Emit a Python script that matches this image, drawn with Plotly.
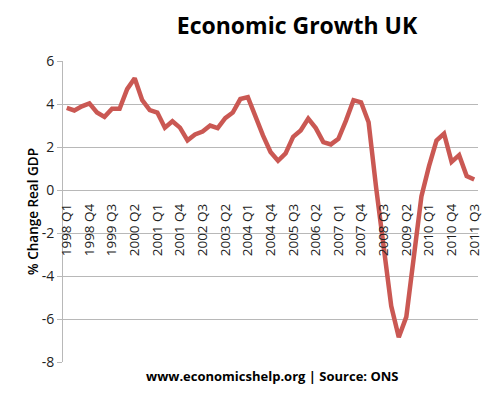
import plotly.graph_objects as go

categories = [
    "1998 Q1", "1998 Q2", "1998 Q3", "1998 Q4",
    "1999 Q1", "1999 Q2", "1999 Q3", "1999 Q4",
    "2000 Q1", "2000 Q2", "2000 Q3", "2000 Q4",
    "2001 Q1", "2001 Q2", "2001 Q3", "2001 Q4",
    "2002 Q1", "2002 Q2", "2002 Q3", "2002 Q4",
    "2003 Q1", "2003 Q2", "2003 Q3", "2003 Q4",
    "2004 Q1", "2004 Q2", "2004 Q3", "2004 Q4",
    "2005 Q1", "2005 Q2", "2005 Q3", "2005 Q4",
    "2006 Q1", "2006 Q2", "2006 Q3", "2006 Q4",
    "2007 Q1", "2007 Q2", "2007 Q3", "2007 Q4",
    "2008 Q1", "2008 Q2", "2008 Q3", "2008 Q4",
    "2009 Q1", "2009 Q2", "2009 Q3", "2009 Q4",
    "2010 Q1", "2010 Q2", "2010 Q3", "2010 Q4",
    "2011 Q1", "2011 Q2", "2011 Q3",
]

gdp_growth = [
    3.82, 3.70, 3.89, 4.03,
    3.61, 3.40, 3.78, 3.78,
    4.69, 5.20, 4.18, 3.72,
    3.60, 2.90, 3.20, 2.90,
    2.31, 2.58, 2.72, 3.00,
    2.88, 3.34, 3.60, 4.23,
    4.32, 3.38, 2.54, 1.77,
    1.36, 1.70, 2.47, 2.77,
    3.32, 2.88, 2.23, 2.12,
    2.38, 3.23, 4.18, 4.08,
    3.15, 0.10, -2.70, -5.40,
    -6.85, -5.90, -3.10, -0.30,
    1.10, 2.30, 2.62, 1.31,
    1.62, 0.65, 0.49,
]

tick_labels = [
    "1998 Q1", "1998 Q4", "1999 Q3", "2000 Q2", "2001 Q1", "2001 Q4",
    "2002 Q3", "2003 Q2", "2004 Q1", "2004 Q4", "2005 Q3", "2006 Q2",
    "2007 Q1", "2007 Q4", "2008 Q3", "2009 Q2", "2010 Q1", "2010 Q4",
    "2011 Q3",
]

y_ticks = [-8, -6, -4, -2, 0, 2, 4, 6]
y_tick_text = ["-8", "-6", "-4", "-2", "0", "2", "4", "6"]

FONT = "Open Sans"
GRID = "#B8B8B8"

# page body has an 8px margin, so the figure is laid out in page coords - 8
W, H = 492, 386
OFF = 8

fig = go.Figure()
fig.add_trace(go.Scatter(
    x=categories, y=gdp_growth, mode="lines",
    line=dict(color="#CA5853", width=4.5),
    hoverinfo="x+y",
))

ymin, ymax = -8, 6
fig.update_layout(
    width=W, height=H,
    margin=dict(l=63 - OFF, r=22, t=61 - OFF, b=32),
    paper_bgcolor="white", plot_bgcolor="white",
    showlegend=False,
    title=dict(
        text="<b>Economic Growth UK</b>",
        x=(297 - OFF) / W, xanchor="center", xref="container",
        y=1 - (26 - OFF) / H, yanchor="middle", yref="container",
        font=dict(family=FONT, size=23, color="#000000"),
    ),
    xaxis=dict(
        type="category",
        categoryorder="array", categoryarray=categories,
        range=[-0.5, len(categories) - 0.5],
        tickmode="array", tickvals=tick_labels, ticktext=tick_labels,
        tickangle=-90,
        anchor="free", position=(0 - ymin) / (ymax - ymin),
        showgrid=False, zeroline=False, showline=False,
        ticks="", ticklabelstandoff=10,
        tickfont=dict(family=FONT, size=13.5, color="#222222"),
        fixedrange=True,
    ),
    yaxis=dict(
        range=[ymin, ymax], tickmode="array",
        tickvals=y_ticks, ticktext=y_tick_text,
        showgrid=True, gridcolor=GRID, gridwidth=1,
        zeroline=False,
        showline=True, linecolor=GRID, linewidth=1,
        ticks="outside", ticklen=5, tickcolor=GRID,
        tickfont=dict(family=FONT, size=14, color="#222222"),
        fixedrange=True,
    ),
    annotations=[
        dict(
            text="% Change Real GDP", textangle=-90,
            xref="paper", yref="paper",
            x=(33 - 63) / 415, y=(362 - 212) / 301,
            xanchor="center", yanchor="middle", showarrow=False,
            font=dict(family=FONT, size=13.5, color="#000000", weight=600),
        ),
        dict(
            text="<b>www.economicshelp.org | Source: ONS</b>",
            xref="paper", yref="paper",
            x=(272 - 63) / 415, y=(362 - 376) / 301,
            xanchor="center", yanchor="middle", showarrow=False,
            font=dict(family=FONT, size=13, color="#000000"),
        ),
    ],
)

fig.write_html("out.html")
